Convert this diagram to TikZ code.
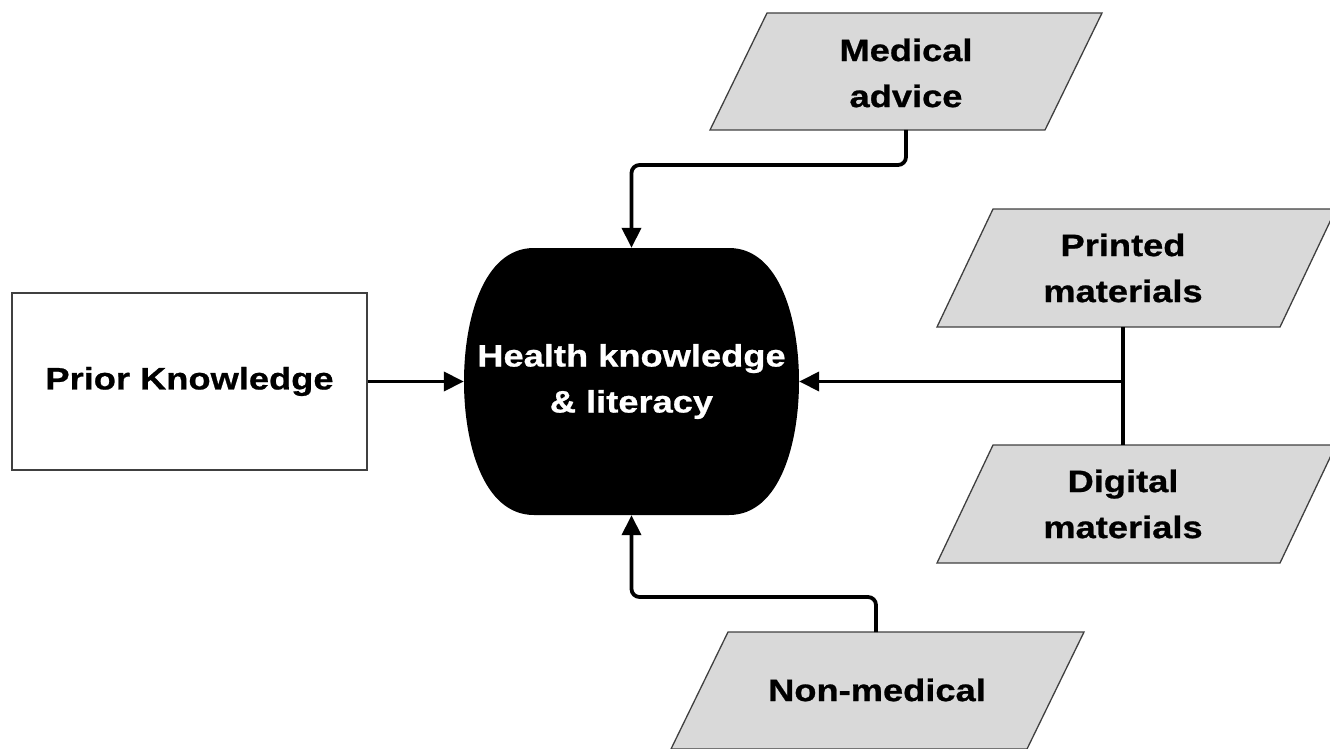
\documentclass[tikz,border=0pt]{standalone}
\usepackage{fontspec}
\setmainfont{Liberation Sans}[FakeStretch=1.17, BoldFeatures={FakeBold=0.8}]
\usetikzlibrary{arrows.meta}
\pgfdeclarelayer{background}
\pgfsetlayers{background,main}
\begin{document}
\begin{tikzpicture}[x=1pt,y=-1pt,
  lbl/.style={font=\fontsize{31}{46}\selectfont\bfseries, align=center, inner sep=0pt},
  io/.style={draw=black!75, line width=1.3pt, fill=black!15},
  link/.style={line width=3.8pt, rounded corners=8pt},
  tip/.style={-{Triangle[length=20pt,width=19pt]}}]
\useasboundingbox (0,0) rectangle (1330,749);

% input/output parallelograms
\draw[io] (767,13) -- (1102,13) -- (1045,130) -- (710,130) -- cycle;
\draw[io] (993,209) -- (1336,209) -- (1280,327) -- (937,327) -- cycle;
\draw[io] (993,445) -- (1336,445) -- (1280,563) -- (937,563) -- cycle;
\draw[io] (728,632) -- (1084,632) -- (1027,749) -- (671,749) -- cycle;

\node[lbl] (med) at (906,73) {Medical\\advice};
\node[lbl] (prn) at (1123,268) {Printed\\materials};
\node[lbl] (dig) at (1123,504) {Digital\\materials};
\node[lbl] (non) at (877,690) {Non-medical};

\coordinate (med-b) at (906,130);
\coordinate (prn-b) at (1123,327);
\coordinate (dig-t) at (1123,445);
\coordinate (non-t) at (876,632);

% prior knowledge box
\node[lbl, draw=black!75, line width=1.3pt, minimum width=355pt, minimum height=177pt]
  (pk) at (189.5,381.5) {Prior Knowledge};

% central outcome
\node[lbl, text=white, minimum width=335pt, minimum height=267pt]
  (hk) at (631.5,381.5) {Health knowledge\\\& literacy};
\begin{pgfonlayer}{background}
\fill (534,248) -- (729,248)
  .. controls (780,248) and (799,320) .. (799,381.5)
  .. controls (799,443) and (780,515) .. (729,515)
  -- (534,515)
  .. controls (483,515) and (464,443) .. (464,381.5)
  .. controls (464,320) and (483,248) .. (534,248) -- cycle;
\end{pgfonlayer}

% connectors
\coordinate (j) at (prn-b |- hk.east);
\draw[link,tip] (med-b) -- ++(0,35) -| (hk.north);
\draw[link,tip] (pk.east) -- (hk.west);
\draw[link] (prn-b) -- (dig-t);
\draw[link,tip] (j) -- (hk.east);
\draw[link,tip] (non-t) -- ++(0,-35) -| (hk.south);
\end{tikzpicture}
\end{document}
